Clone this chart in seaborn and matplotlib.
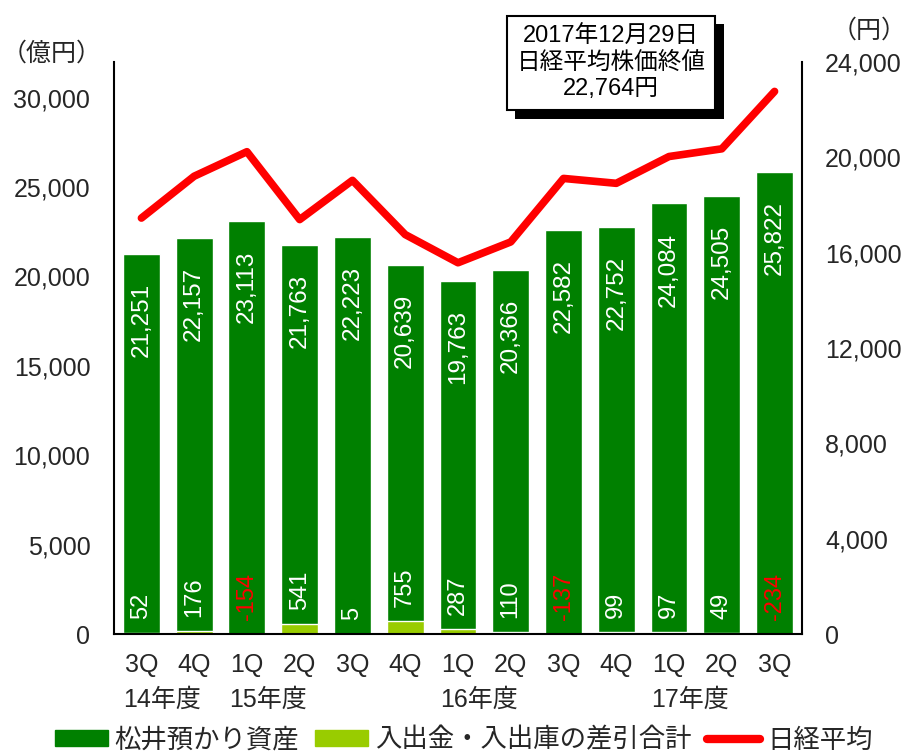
import numpy as np
import pandas as pd
import matplotlib
matplotlib.use("Agg")
import matplotlib.pyplot as plt
import matplotlib.patches as mpatches
import matplotlib.lines as mlines
import matplotlib.patheffects as pe
import seaborn as sns

# ── data ─────────────────────────────────────────────────────
quarters      = ["3Q", "4Q", "1Q", "2Q", "3Q", "4Q", "1Q", "2Q", "3Q", "4Q", "1Q", "2Q", "3Q"]
keys          = ["14-3Q", "14-4Q", "15-1Q", "15-2Q", "15-3Q", "15-4Q", "16-1Q",
                 "16-2Q", "16-3Q", "16-4Q", "17-1Q", "17-2Q", "17-3Q"]
fiscal_years  = {0: "14年度", 2: "15年度", 6: "16年度", 10: "17年度"}
assets        = [21251, 22157, 23113, 21763, 22223, 20639, 19763, 20366, 22582, 22752, 24084, 24505, 25822]
flows         = [52, 176, -154, 541, 5, 755, 287, 110, -137, 99, 97, 49, -234]
nikkei        = [17450.77, 19206.99, 20235.73, 17388.15, 19033.71, 16758.67, 15575.92,
                 16449.84, 19114.37, 18909.26, 20033.43, 20356.28, 22764.94]
left_ticks    = [0, 5000, 10000, 15000, 20000, 25000, 30000]
right_ticks   = [0, 4000, 8000, 12000, 16000, 20000, 24000]

DARK  = "#008000"
LIGHT = "#99CC00"
RED   = "#FF0000"

df = pd.DataFrame({"key": keys, "assets": assets, "flows": flows,
                   "pos": np.arange(len(keys)), "nikkei": nikkei})

sns.set_style("white")
plt.rcParams["font.family"] = ["Liberation Sans", "Noto Sans CJK JP"]

fig = plt.figure(figsize=(9.06, 7.53), dpi=100)
ax = fig.add_axes([0.1258, 0.158, 0.7594, 0.7597])

# bars: assets, then net flows overlaid from zero
sns.barplot(data=df, x="key", y="assets", order=keys, color=DARK,
            saturation=1, width=0.70, ax=ax, zorder=1)
sns.barplot(data=df, x="key", y="flows", order=keys, color=LIGHT,
            saturation=1, width=0.70, ax=ax, zorder=1.5)

ax.set_xlim(-0.52, len(keys) - 0.48)
ax.set_ylim(0, 32000)
ax.set_yticks(left_ticks)
ax.set_yticklabels([f"{t:,}" for t in left_ticks])
ax.set_xticks(range(len(keys)))
ax.set_xticklabels(quarters)
ax.set_xlabel("")
ax.set_ylabel("")
ax.tick_params(axis="y", length=0, pad=17, labelsize=18)
ax.tick_params(axis="x", length=0, pad=14, labelsize=18)
ax.spines["top"].set_visible(False)
ax.spines["right"].set_visible(False)
for s in ["left", "bottom"]:
    ax.spines[s].set_color("black")
    ax.spines[s].set_linewidth(1.5)

# value labels inside bars
for i, (a, f) in enumerate(zip(assets, flows)):
    ax.annotate(f"{a:,}", xy=(i, a), xytext=(0, -47.5), textcoords="offset points",
                rotation=90, ha="center", va="center", color="white", fontsize=17.5)
    ax.annotate(f"{f:,}", xy=(i, max(f, 0)), xytext=(0, 10), textcoords="offset points",
                rotation=90, ha="center", va="bottom",
                color=RED if f < 0 else "white", fontsize=17)

# fiscal-year labels under the quarter labels
for i, lab in fiscal_years.items():
    ax.annotate(lab, xy=(i - 0.34, 0), xycoords=("data", "axes fraction"),
                xytext=(0, -47), textcoords="offset points",
                ha="left", va="center", fontsize=18)

# Nikkei line on the right axis
ax2 = ax.twinx()
sns.lineplot(data=df, x="pos", y="nikkei", color=RED, linewidth=5.5,
             ax=ax2, solid_capstyle="round", solid_joinstyle="round")
ax2.set_ylim(0, 24000)
ax2.set_yticks(right_ticks)
ax2.set_yticklabels([f"{t:,}" for t in right_ticks])
ax2.set_xlabel("")
ax2.set_ylabel("")
ax2.tick_params(axis="y", length=0, pad=16.5, labelsize=18)
ax2.spines["top"].set_visible(False)
ax2.spines["left"].set_visible(False)
ax2.spines["bottom"].set_visible(False)
ax2.spines["right"].set_color("black")
ax2.spines["right"].set_linewidth(1.5)
ax2.set_xlim(ax.get_xlim())

# unit labels
fig.text(52 / 906, 1 - 54 / 753, "（億円）", ha="center", va="center", fontsize=18)
fig.text(869 / 906, 1 - 31 / 753, "（円）", ha="center", va="center", fontsize=18)

# callout box with drop shadow
note = "2017年12月29日\n日経平均株価終値\n22,764円"
box = fig.text(611 / 906, 1 - 63 / 753, note, ha="center", va="center",
               fontsize=17, linespacing=1.25, color="black",
               bbox=dict(boxstyle="square,pad=0.42", fc="white", ec="black", lw=1.5))
box.get_bbox_patch().set_path_effects([
    pe.SimplePatchShadow(offset=(6, -6), shadow_rgbFace="black", alpha=1.0),
    pe.Normal(),
])

# legend
handles = [mpatches.Patch(color=DARK), mpatches.Patch(color=LIGHT),
           mlines.Line2D([], [], color=RED, linewidth=6, solid_capstyle="round")]
labels = ["松井預かり資産", "入出金・入出庫の差引合計", "日経平均"]
fig.legend(handles, labels, loc="center", bbox_to_anchor=(0.512, 0.0173), ncol=3,
           frameon=False, fontsize=19, handlelength=2.0, handleheight=0.53,
           handletextpad=0.27, columnspacing=0.6, borderpad=0, borderaxespad=0)

fig.savefig("out.png", dpi=100)
